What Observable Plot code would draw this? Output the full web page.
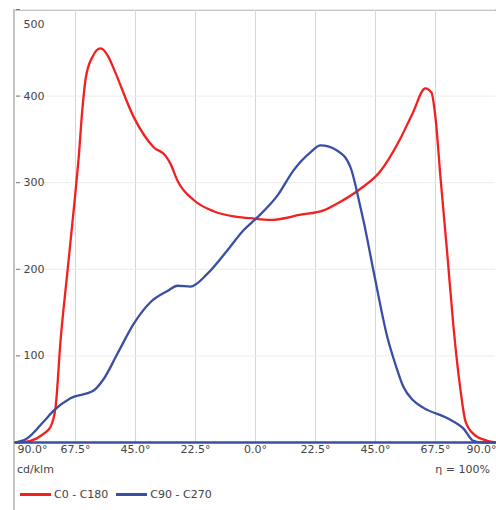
<!DOCTYPE html>
<html>
<head>
<meta charset="utf-8">
<script src="https://cdn.jsdelivr.net/npm/d3@7"></script>
<script src="https://cdn.jsdelivr.net/npm/@observablehq/plot@0.6"></script>
<style>
  body { margin: 0; background: #fff; font-family: "DejaVu Sans", sans-serif; }
  #frame { position: absolute; left: 13px; top: 9px; width: 483px; height: 501px;
           border-left: 2px solid #c4c4c4; border-top: 2px solid #c4c4c4; }
  #chart { position: absolute; left: 0; top: 0; }
  .lbl { position: absolute; font-size: 11px; color: #444; }
  #legend { position: absolute; left: 20px; top: 488px; font-size: 11px; color: #444; display: flex; align-items: center; }
  .sw { display: inline-block; width: 31px; height: 3px; margin-right: 3px; }
</style>
</head>
<body>
<div id="frame"></div>
<div id="chart"></div>
<div class="lbl" style="left:17px; top:463px;">cd/klm</div>
<div class="lbl" style="right:6px; top:463px;">η = 100%</div>
<div id="legend">
  <span class="sw" style="background:#f22020"></span><span style="margin-right:8px">C0 - C180</span>
  <span class="sw" style="background:#3a4ea3"></span><span>C90 - C270</span>
</div>
<script>
const angleTicks = [-90, -67.5, -45, -22.5, 0, 22.5, 45, 67.5, 90];
const valueTicks = [100, 200, 300, 400, 500];

const c0Angles = [-90, -89.2, -84.4, -79.5, -76.9, -75, -73.1, -70.6, -68.1, -66.2, -65, -63.7, -61.2, -58.1, -55.1, -53.2, -45.7, -38.2, -33.7, -31.9, -29.2, -23.2, -15.7, -8.2, -1.9, 5.6, 16.9, 25.5, 30.7, 39.4, 46.5, 54, 58.9, 63.7, 66, 67.5, 69.4, 72, 74.2, 76.9, 78.7, 81.7, 86.9, 90];
const c0Values = [0, 0, 2, 10, 18, 40, 118, 195, 271, 333, 382, 420, 445, 455, 445, 432, 376, 341, 331, 322, 302, 280, 267, 261, 259, 257, 263, 268, 276, 293, 312, 349, 380, 409, 404, 375, 305, 215, 135, 60, 25, 10, 2, 0];

const c90Angles = [-90, -86, -79.5, -75.6, -69.4, -60.7, -57, -51.7, -45.7, -39.4, -33, -29.2, -24.4, -18, -10.5, -4.5, 0.7, 8.2, 14.2, 20.6, 24.4, 30.7, 35.6, 39.4, 40.5, 44.2, 49.5, 52.5, 55.5, 59, 63, 72, 78, 81.7, 85, 90];
const c90Values = [0, 4, 24, 37, 51, 60, 73, 103, 137, 162, 175, 181, 180, 195, 222, 245, 260, 285, 314, 335, 343, 337, 318, 271, 256, 199, 121, 90, 64, 49, 40, 28, 16, 2, 0, 0];

const red = "#f22020", blue = "#3a4ea3";
const c0 = c0Angles.map((a, i) => ({angle: a, value: c0Values[i]}));
const c90 = c90Angles.map((a, i) => ({angle: a, value: c90Values[i]}));
const fmt = d => Math.abs(d).toFixed(1) + "°";

const chart = Plot.plot({
  width: 496,
  height: 462,
  marginLeft: 15,
  marginRight: 1,
  marginTop: 9,
  marginBottom: 20,
  style: {fontFamily: "DejaVu Sans, sans-serif", fontSize: "11px", color: "#444", background: "transparent"},
  x: {domain: [-90, 90], axis: null},
  y: {domain: [0, 500], axis: null},
  marks: [
    Plot.gridX(angleTicks.slice(1, -1), {stroke: "#d6d6d6", strokeOpacity: 1}),
    Plot.gridY(valueTicks, {stroke: "#ececec", strokeOpacity: 1}),
    Plot.axisY(valueTicks, {tickSize: 4, dx: 5, text: null, label: null, stroke: "#777"}),
    Plot.text(valueTicks.filter(d => d < 500), {y: d => d, text: d => String(d), frameAnchor: "left", textAnchor: "start", dx: 8, fill: "#444"}),
    Plot.text(valueTicks.filter(d => d === 500), {y: d => d, text: d => String(d), frameAnchor: "left", textAnchor: "start", dx: 8, dy: 15, fill: "#444"}),
    Plot.text(angleTicks.slice(1, -1), {x: d => d, text: fmt, frameAnchor: "bottom", dy: 10, fill: "#444"}),
    Plot.text(angleTicks.slice(0, 1), {x: d => d, text: fmt, frameAnchor: "bottom", textAnchor: "start", dx: 2, dy: 10, fill: "#444"}),
    Plot.text(angleTicks.slice(-1), {x: d => d, text: fmt, frameAnchor: "bottom", textAnchor: "end", dx: 1, dy: 10, fill: "#444"}),
    Plot.line(c0, {x: "angle", y: "value", stroke: red, strokeWidth: 2.3, curve: "monotone-x"}),
    Plot.line(c90, {x: "angle", y: "value", stroke: blue, strokeWidth: 2.3, curve: "monotone-x"}),
    Plot.ruleY([0], {stroke: blue, strokeWidth: 2.5})
  ]
});
document.getElementById("chart").appendChild(chart);
</script>
</body>
</html>
